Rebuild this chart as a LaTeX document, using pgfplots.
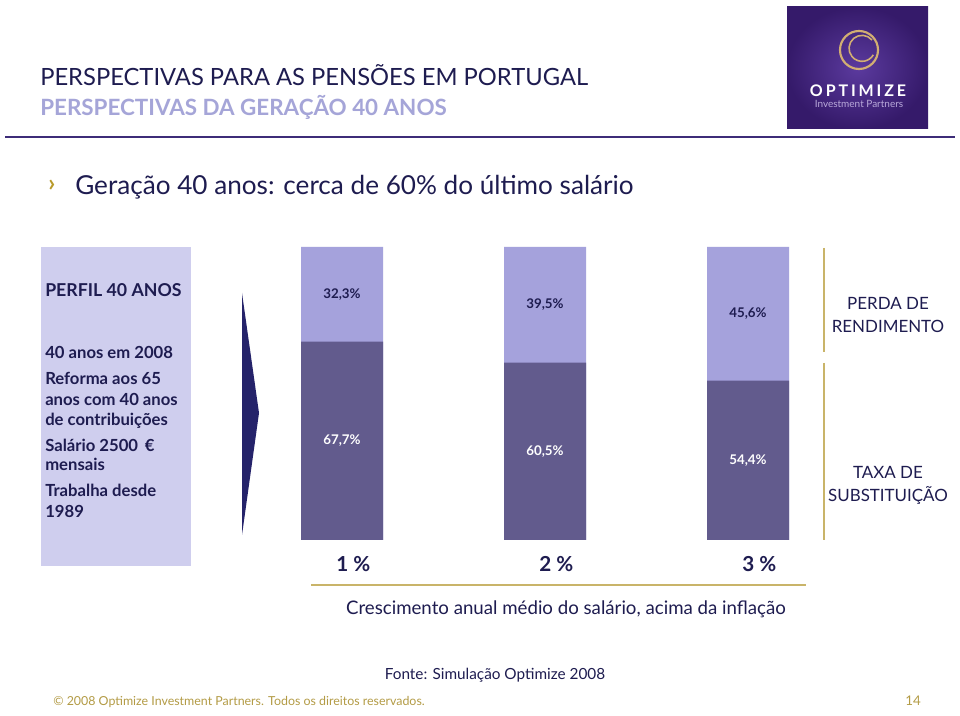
\documentclass[border=0pt]{standalone}
\usepackage{pgfplots}
\pgfplotsset{compat=1.18}
\usepackage{pgfplotstable}
\usepackage{fontspec}
\setmainfont{Lato}
\definecolor{navy}{HTML}{1E1C50}
\definecolor{subt}{HTML}{A5A5D8}
\definecolor{panel}{HTML}{CFCEEE}
\definecolor{darkbar}{HTML}{625B8D}
\definecolor{lightbar}{HTML}{A5A2DC}
\definecolor{goldline}{HTML}{C9B469}
\definecolor{goldtxt}{HTML}{B39B45}
\definecolor{bullet}{HTML}{B89A2A}
\definecolor{arrowc}{HTML}{25236A}
\definecolor{divider}{HTML}{3D2C78}
\definecolor{logoin}{HTML}{5B3A9E}
\definecolor{logoout}{HTML}{351A6A}
\definecolor{ring}{HTML}{D2AE72}
\definecolor{logosub}{HTML}{B9A9DA}
\pgfplotstableread{
x dark light dlab llab
0 67.7 32.3 67,7\% 32,3\%
1 60.5 39.5 60,5\% 39,5\%
2 54.4 45.6 54,4\% 45,6\%
}\data
\newcommand{\fs}[1]{\fontsize{#1}{#1}\selectfont}
\begin{document}
\begin{tikzpicture}[x=0.75pt,y=0.75pt]
\fill[white] (0,0) rectangle (960,716);
% header
\node[anchor=base west,inner sep=0,text=navy,font=\fs{17.8}] at (40,630) {PERSPECTIVAS PARA AS PENSÕES EM PORTUGAL};
\node[anchor=base west,inner sep=0,text=subt,font=\bfseries\fs{16.8}] at (40,600) {PERSPECTIVAS DA GERAÇÃO 40 ANOS};
\draw[divider,line width=1.2pt] (5,579) -- (955,579);
% logo
\shade[inner color=logoin,outer color=logoout] (787,587) rectangle (928,709);
\draw[ring,line width=1.6pt] (859,666) circle (19);
\draw[ring,line width=1.2pt] (872,676) arc (40:330:13);
\node[anchor=base,inner sep=0,text=white,font=\bfseries\fs{12}\addfontfeatures{LetterSpace=18}] at (858,619) {OPTIMIZE};
\node[anchor=base,inner sep=0,text=logosub,font=\fs{7.5}] at (859,608) {Investment Partners};
% bullet line
\node[anchor=base west,inner sep=0,text=bullet,font=\bfseries\fs{18}] at (48,524) {›};
\node[anchor=base west,inner sep=0,text=navy,font=\fs{19.6}] at (75,521) {Geração 40 anos: cerca de 60\% do último salário};
% left panel
\fill[panel] (41,150) rectangle (191,469);
\begin{scope}[every node/.style={anchor=base west,inner sep=0,text=navy}]
\node[font=\bfseries\fs{13.3}] at (45,419) {PERFIL 40 ANOS};
\node[font=\bfseries\fs{12.5}] at (45,357) {40 anos em 2008};
\node[font=\bfseries\fs{12.5}] at (45,331) {Reforma aos 65};
\node[font=\bfseries\fs{12.5}] at (45,310) {anos com 40 anos};
\node[font=\bfseries\fs{12.5}] at (45,290) {de contribuições};
\node[font=\bfseries\fs{12.5}] at (45,264) {Salário 2500 \,€};
\node[font=\bfseries\fs{12.5}] at (45,245) {mensais};
\node[font=\bfseries\fs{12.5}] at (45,219) {Trabalha desde};
\node[font=\bfseries\fs{12.5}] at (45,198) {1989};
\end{scope}
% arrow
\fill[arrowc] (242,423) -- (259,303) -- (242,181) -- cycle;
% chart
\begin{axis}[
  at={(218.4375pt,132pt)}, anchor=south west,
  width=380.625pt, height=219.75pt, scale only axis,
  xmin=-0.25, xmax=2.25, ymin=0, ymax=100,
  axis line style={draw=none},
  xtick={0,1,2}, xticklabels={1 \%,2 \%,3 \%},
  xtick style={draw=none}, ytick=\empty,
  xticklabel style={anchor=base,yshift=-24pt,xshift=8.5pt,text=navy,font=\bfseries\fs{15.5}},
  clip=false,
]
\addplot[ybar, bar width=61.5pt, bar shift=0pt, fill=lightbar, draw=none]
  table[x=x, y expr=\thisrow{dark}+\thisrow{light}] {\data};
\addplot[ybar, bar width=61.5pt, bar shift=0pt, fill=darkbar, draw=none]
  table[x=x, y=dark] {\data};
\addplot[draw=none, nodes near coords, point meta=explicit symbolic,
  every node near coord/.append style={anchor=center,text=navy,font=\bfseries\fs{10}}]
  table[x=x, y expr=\thisrow{dark}+\thisrow{light}/2, meta=llab] {\data};
\addplot[draw=none, nodes near coords, point meta=explicit symbolic,
  every node near coord/.append style={anchor=center,text=white,font=\bfseries\fs{10}}]
  table[x=x, y expr=\thisrow{dark}/2, meta=dlab] {\data};
\end{axis}
% gold lines
\draw[goldline,line width=1pt] (311,131) -- (806,131);
\draw[goldline,line width=1pt] (824,468) -- (824,364);
\draw[goldline,line width=1pt] (824,353) -- (824,176);
% right labels
\begin{scope}[every node/.style={anchor=base,inner sep=0,text=navy,font=\fs{12.7}}]
\node at (888,406) {PERDA DE};
\node at (888,383) {RENDIMENTO};
\node at (888,237) {TAXA DE};
\node at (888,214) {SUBSTITUIÇÃO};
\end{scope}
\node[anchor=base,inner sep=0,text=navy,font=\fs{14}] at (566,101) {Crescimento anual médio do salário, acima da inflação};
\node[anchor=base,inner sep=0,text=navy,font=\fs{11.5}] at (495,36) {Fonte: Simulação Optimize 2008};
\node[anchor=base west,inner sep=0,text=goldtxt,font=\fs{9.3}] at (53,10) {© 2008 Optimize Investment Partners. Todos os direitos reservados.};
\node[anchor=base west,inner sep=0,text=goldtxt,font=\fs{10}] at (905,10) {14};
\end{tikzpicture}
\end{document}
